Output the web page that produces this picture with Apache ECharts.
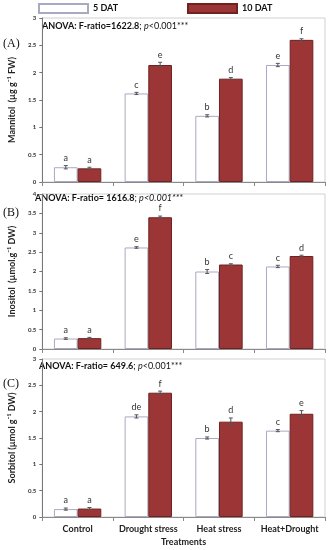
<!DOCTYPE html>
<html><head><meta charset="utf-8">
<script src="https://cdn.jsdelivr.net/npm/echarts@6/dist/echarts.min.js"></script>
<style>html,body{margin:0;padding:0;background:#fff}#c{width:329px;height:550px}</style>
</head><body><div id="c"></div>
<script>
const categories = ['Control', 'Drought stress', 'Heat stress', 'Heat+Drought'];
const seriesNames = ['5 DAT', '10 DAT'];

const mannitol5 = [0.27, 1.62, 1.21, 2.14];
const mannitol10 = [0.25, 2.14, 1.89, 2.60];
const mannitolErr5 = [0.03, 0.02, 0.02, 0.03];
const mannitolErr10 = [0.02, 0.05, 0.02, 0.02];
const mannitolLetters5 = ['a', 'c', 'b', 'e'];
const mannitolLetters10 = ['a', 'e', 'd', 'f'];

const inositol5 = [0.27, 2.62, 2.00, 2.13];
const inositol10 = [0.28, 3.40, 2.18, 2.40];
const inositolErr5 = [0.02, 0.02, 0.05, 0.03];
const inositolErr10 = [0.02, 0.03, 0.02, 0.02];
const inositolLetters5 = ['a', 'e', 'b', 'c'];
const inositolLetters10 = ['a', 'f', 'c', 'd'];

const sorbitol5 = [0.15, 1.91, 1.50, 1.64];
const sorbitol10 = [0.16, 2.36, 1.81, 1.96];
const sorbitolErr5 = [0.02, 0.03, 0.02, 0.02];
const sorbitolErr10 = [0.02, 0.03, 0.07, 0.06];
const sorbitolLetters5 = ['a', 'de', 'b', 'c'];
const sorbitolLetters10 = ['a', 'f', 'd', 'e'];

const yMax = [3, 4, 3];
const yInterval = 0.5;
const yNames = ['Mannitol  (µg g⁻¹ FW)', 'Inositol  (µmol.g⁻¹ DW)', 'Sorbitol (µmol g⁻¹ DW)'];
const panelLabels = ['(A)', '(B)', '(C)'];
const anovaF = ['1622.8', ' 1616.8', ' 649.6'];
const xName = 'Treatments';

const panels = [
  {v5: mannitol5, v10: mannitol10, e5: mannitolErr5, e10: mannitolErr10, l5: mannitolLetters5, l10: mannitolLetters10},
  {v5: inositol5, v10: inositol10, e5: inositolErr5, e10: inositolErr10, l5: inositolLetters5, l10: inositolLetters10},
  {v5: sorbitol5, v10: sorbitol10, e5: sorbitolErr5, e10: sorbitolErr10, l5: sorbitolLetters5, l10: sorbitolLetters10}
];

const FONT = 'Lato, "Open Sans", sans-serif';
const grids = [
  {left: 36, right: 4, top: 18, height: 164},
  {left: 34, right: 4, top: 194, height: 155},
  {left: 35, right: 4, top: 359, height: 158}
];
const RED = '#9c3636';
const GAP = 0.33;

const option = {
  animation: false,
  backgroundColor: '#fff',
  textStyle: {fontFamily: FONT},
  legend: [
    {left: 38, top: 3, padding: 0, data: [seriesNames[0]], icon: 'rect', itemWidth: 49, itemHeight: 9, itemGap: 0,
     textStyle: {fontSize: 9, fontWeight: 'bold', color: '#111', fontFamily: FONT}},
    {left: 187, top: 3, padding: 0, data: [seriesNames[1]], icon: 'rect', itemWidth: 49, itemHeight: 9, itemGap: 0,
     textStyle: {fontSize: 9, fontWeight: 'bold', color: '#111', fontFamily: FONT}}
  ],
  grid: grids.map(g => Object.assign({show: true, borderColor: '#d0d0d0', borderWidth: 1, backgroundColor: 'transparent'}, g)),
  xAxis: grids.map((g, i) => ({
    type: 'category', gridIndex: i, data: categories,
    axisLine: {lineStyle: {color: '#8a8a8a', width: 1}},
    axisTick: {show: true, length: 4, lineStyle: {color: '#8a8a8a'}},
    axisLabel: {show: i === 2, interval: 0, fontSize: 9, fontWeight: 'bold', color: '#222', margin: 8, fontFamily: FONT},
    name: i === 2 ? xName : '', nameLocation: 'middle', nameGap: 21,
    nameTextStyle: {fontSize: 9, fontWeight: 'bold', color: '#222', fontFamily: FONT}
  })),
  yAxis: grids.map((g, i) => ({
    type: 'value', gridIndex: i, min: 0, max: yMax[i], interval: yInterval,
    axisLine: {show: true, lineStyle: {color: '#777', width: 1}},
    axisTick: {show: true, length: 3, lineStyle: {color: '#777'}},
    splitLine: {show: false},
    axisLabel: {fontSize: 6, color: '#333', fontWeight: 'bold', margin: 6, fontFamily: FONT},
    name: yNames[i], nameLocation: 'middle', nameGap: 17, nameRotate: 90,
    nameTextStyle: {fontSize: 9, fontWeight: 'bold', color: '#222', fontFamily: FONT}
  })),
  series: [],
  graphic: []
};

panels.forEach((p, i) => {
  option.series.push({
    name: seriesNames[0], type: 'bar', xAxisIndex: i, yAxisIndex: i, data: p.v5,
    barGap: '0%', barCategoryGap: (GAP * 100) + '%',
    itemStyle: {color: '#ffffff', borderColor: '#a9a9c4', borderWidth: 1}
  });
  option.series.push({
    name: seriesNames[1], type: 'bar', xAxisIndex: i, yAxisIndex: i, data: p.v10,
    barGap: '0%', barCategoryGap: (GAP * 100) + '%',
    itemStyle: {color: RED, borderColor: '#6e2222', borderWidth: 1}
  });
  [[p.v5, p.e5, p.l5, 0], [p.v10, p.e10, p.l10, 1]].forEach(([vals, errs, letters, s]) => {
    option.series.push({
      type: 'custom', xAxisIndex: i, yAxisIndex: i,
      data: vals.map((v, k) => [k, v, errs[k]]),
      encode: {x: 0, y: 1},
      z: 5,
      renderItem: function (params, api) {
        const k = api.value(0), v = api.value(1), e = api.value(2);
        const letter = letters[k];
        const band = api.size([1, 0])[0];
        const bw = band * (1 - GAP) / 2;
        const c = api.coord([k, v]);
        const x = c[0] + (s - 0.5) * bw;
        const top = api.coord([k, v + e])[1];
        const bot = api.coord([k, v - e])[1];
        const cap = 2;
        const st = {stroke: '#555', lineWidth: 1};
        return {type: 'group', children: [
          {type: 'line', shape: {x1: x, y1: top, x2: x, y2: bot}, style: st},
          {type: 'line', shape: {x1: x - cap, y1: top, x2: x + cap, y2: top}, style: st},
          {type: 'line', shape: {x1: x - cap, y1: bot, x2: x + cap, y2: bot}, style: st},
          {type: 'text', style: {text: letter, x: x, y: top - 3, align: 'center', verticalAlign: 'bottom',
            fontSize: 9, fill: '#333', fontFamily: FONT}}
        ]};
      }
    });
  });
});

// Panel labels and ANOVA annotations
const panelLabelY = [45, 214, 385];
const anovaPos = [[42, 26], [35, 198], [39, 366]];
const pItalicRest = [false, true, false];
panelLabels.forEach((t, i) => {
  option.graphic.push({type: 'text', left: 3, top: panelLabelY[i] - 7,
    style: {text: t, font: '12px "Liberation Serif", "DejaVu Serif", serif', fill: '#111'}});
  option.graphic.push({type: 'text', x: anovaPos[i][0], y: anovaPos[i][1],
    style: {
      text: '{b|ANOVA: F-ratio=' + anovaF[i] + '}{n|; }{i|p}' + (pItalicRest[i] ? '{i|<0.001***}' : '{n|<0.001***}'),
      verticalAlign: 'middle',
      rich: {
        b: {fontSize: 9, fontWeight: 'bold', fill: '#111', fontFamily: FONT},
        n: {fontSize: 9, fill: '#111', fontFamily: FONT},
        i: {fontSize: 9, fontStyle: 'italic', fill: '#111', fontFamily: FONT}
      }
    }});
});

const chart = echarts.init(document.getElementById('c'), null, {renderer: 'canvas'});
chart.setOption(option);
</script>
</body></html>
